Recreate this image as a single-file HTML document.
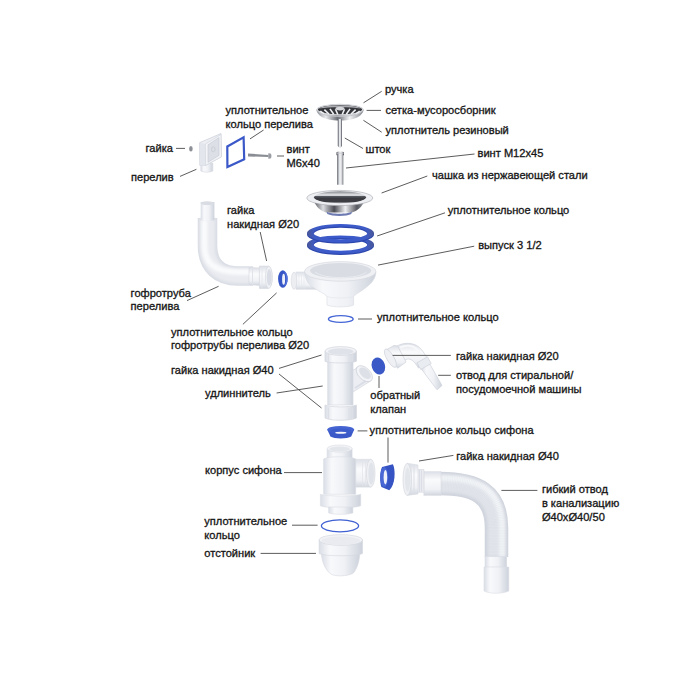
<!DOCTYPE html>
<html><head><meta charset="utf-8">
<style>
html,body{margin:0;padding:0;background:#fff;width:700px;height:700px;overflow:hidden}
svg{display:block}
text{font-family:"Liberation Sans",sans-serif;font-size:11.1px;fill:#161616;stroke:#161616;stroke-width:0.32}
.ln{stroke:#4a4a4a;stroke-width:0.9;fill:none}
</style></head><body>
<svg width="700" height="700" viewBox="0 0 700 700">
<defs>
  <filter id="bl" x="-20%" y="-20%" width="140%" height="140%"><feGaussianBlur stdDeviation="1.6"/></filter>
  <linearGradient id="wh" x1="0" x2="1" y1="0" y2="0">
    <stop offset="0" stop-color="#dadee6"/><stop offset="0.25" stop-color="#f8f9fb"/><stop offset="0.6" stop-color="#eff1f5"/><stop offset="1" stop-color="#cdd2db"/>
  </linearGradient>
  <linearGradient id="whv" x1="0" x2="0" y1="0" y2="1">
    <stop offset="0" stop-color="#dde0e8"/><stop offset="0.35" stop-color="#fafbfc"/><stop offset="0.75" stop-color="#eff1f5"/><stop offset="1" stop-color="#d2d6de"/>
  </linearGradient>
  <linearGradient id="metal" x1="0" x2="1" y1="0" y2="0">
    <stop offset="0" stop-color="#8a8d95"/><stop offset="0.2" stop-color="#e8e9ec"/><stop offset="0.45" stop-color="#6b6e76"/><stop offset="0.7" stop-color="#f2f2f4"/><stop offset="1" stop-color="#80838b"/>
  </linearGradient>
  <linearGradient id="rod" x1="0" x2="1" y1="0" y2="0">
    <stop offset="0" stop-color="#3c3f46"/><stop offset="0.22" stop-color="#a3a6ad"/><stop offset="0.45" stop-color="#f7f8fa"/><stop offset="0.72" stop-color="#cfd1d6"/><stop offset="1" stop-color="#3a3d44"/>
  </linearGradient>
  <linearGradient id="metal2" x1="0" x2="1" y1="0" y2="0">
    <stop offset="0" stop-color="#55585f"/><stop offset="0.18" stop-color="#dcdde1"/><stop offset="0.4" stop-color="#4b4d54"/><stop offset="0.62" stop-color="#eeeff1"/><stop offset="0.85" stop-color="#55575e"/><stop offset="1" stop-color="#9a9ca3"/>
  </linearGradient>
  <linearGradient id="cupin" x1="0" x2="0" y1="0" y2="1">
    <stop offset="0" stop-color="#7f8288"/><stop offset="0.22" stop-color="#c4c6ca"/><stop offset="0.34" stop-color="#eeeff1"/><stop offset="0.44" stop-color="#55585f"/><stop offset="0.6" stop-color="#393b41"/><stop offset="0.86" stop-color="#3c3e44"/><stop offset="1" stop-color="#a9abb0"/>
  </linearGradient>
  <linearGradient id="blue" x1="0" x2="1" y1="0" y2="0">
    <stop offset="0" stop-color="#4a5796"/><stop offset="0.12" stop-color="#3f5cc6"/><stop offset="0.5" stop-color="#3a59cc"/><stop offset="0.88" stop-color="#3f5cc6"/><stop offset="1" stop-color="#4a5796"/>
  </linearGradient>
</defs>


<!-- ===== PARTS ===== -->
<g id="parts">
<!-- strainer -->
<path d="M316.3 109.5 C317 114 321 117.5 327 119 C331 120.3 336 120.6 340 120.6 C344 120.6 349 120.3 353 119 C359 117.5 363 114 363.7 109.5 Z" fill="url(#metal)"/>
<ellipse cx="340" cy="109.6" rx="22.8" ry="5.2" fill="#35373d" stroke="#d4d6da" stroke-width="1.3"/>
<path d="M318.5 108.6 C323 105.8 332 105.4 340 105.4 C348 105.4 357 105.8 361.5 108.6 C355 107.6 348 107.3 340 107.3 C332 107.3 325 107.6 318.5 108.6 Z" fill="#a9abb1"/>
<g stroke="#f0f1f3" stroke-width="1.6" stroke-linecap="butt">
<path d="M320.3 111.2 L324 113.9"/>
<path d="M324.4 109.7 L328.9 114"/>
<path d="M330 108.9 L333.7 114.3"/>
<path d="M335.5 109.3 L337.8 114.5"/>
<path d="M344.5 109.3 L342.2 114.5"/>
<path d="M350 108.9 L346.3 114.3"/>
<path d="M355.6 109.7 L351.1 114"/>
<path d="M359.7 111.2 L356 113.9"/>
</g>
<ellipse cx="340" cy="108.6" rx="4.5" ry="1.8" fill="#d6d8dc"/>
<path d="M317.5 110.5 C320 115 330 116.3 340 116.3 C350 116.3 360 115 362.5 110.5" fill="none" stroke="#c5c7cc" stroke-width="1"/>
<!-- stem -->
<path d="M337.8 119 H342 V146 L340 148.2 L337.8 146 Z" fill="url(#rod)"/>
<!-- bolt -->
<path d="M336.5 152.5 C337 151.2 343.5 151.2 344 152.5 L344 155 L343.3 155.5 V184.8 H337.1 V155.5 L336.5 155 Z" fill="url(#rod)"/>
<path d="M336.8 153.2 H343.7" stroke="#c9cbd0" stroke-width="0.8"/>
<!-- cup -->
<path d="M314 201 C316 207 321 211 326 212.5 L352 212.5 C357 211 362 207 364.5 201 Z" fill="url(#metal2)"/>
<path d="M326.5 211.5 C331 214.5 348 214.5 352 211.5 L351.3 214 C347 216.5 332 216.5 327.3 214 Z" fill="#6e7bb2"/>
<ellipse cx="339.8" cy="198" rx="33" ry="7.6" fill="#eeeff2" stroke="#a3a6ad" stroke-width="0.6"/>
<ellipse cx="340" cy="197.2" rx="26" ry="6" fill="url(#cupin)"/>
<!-- blue seal rings -->
<path d="M306.9 245.79999999999998 A33.6 9.2 0 1 0 374.1 245.79999999999998 A33.6 9.2 0 1 0 306.9 245.79999999999998 Z M313.5 245.49999999999997 A27 6.4 0 1 0 367.5 245.49999999999997 A27 6.4 0 1 0 313.5 245.49999999999997 Z" fill="#2d47ad" fill-rule="evenodd"/><path d="M306.9 244.6 A33.6 9.2 0 1 0 374.1 244.6 A33.6 9.2 0 1 0 306.9 244.6 Z M313.5 244.29999999999998 A27 6.4 0 1 0 367.5 244.29999999999998 A27 6.4 0 1 0 313.5 244.29999999999998 Z" fill="url(#blue)" fill-rule="evenodd"/>
<path d="M306.9 234.39999999999998 A33.6 9.2 0 1 0 374.1 234.39999999999998 A33.6 9.2 0 1 0 306.9 234.39999999999998 Z M313.5 234.09999999999997 A27 6.4 0 1 0 367.5 234.09999999999997 A27 6.4 0 1 0 313.5 234.09999999999997 Z" fill="#2d47ad" fill-rule="evenodd"/><path d="M306.9 233.2 A33.6 9.2 0 1 0 374.1 233.2 A33.6 9.2 0 1 0 306.9 233.2 Z M313.5 232.89999999999998 A27 6.4 0 1 0 367.5 232.89999999999998 A27 6.4 0 1 0 313.5 232.89999999999998 Z" fill="url(#blue)" fill-rule="evenodd"/>
<!-- outlet bowl -->
<path d="M296 272 L316 272 L316 289.3 L296 289.3 Z" fill="url(#whv)" stroke="#dadde4" stroke-width="0.6"/>
<path d="M299 272.3 V289 M301.5 272.3 V289 M304 272.3 V289" stroke="#e2e5eb" stroke-width="0.6"/>
<ellipse cx="294" cy="280.7" rx="2.8" ry="8.6" fill="#eceef2" stroke="#d6d9e0" stroke-width="0.6"/>
<path d="M304.5 272 C305 280 309 285 314 288 C319 291.5 324 293 327 296.4 L327 305 C332 307.5 349 307.5 353.6 305 L353.6 296.4 C357 293 362 291 366 287.5 C371 284 375.5 279 376 272 Z" fill="url(#wh)" stroke="#d9dce3" stroke-width="0.6"/>
<path d="M327 296.4 C332 298.5 349 298.5 353.6 296.4" fill="none" stroke="#e3e6eb" stroke-width="0.7"/>
<ellipse cx="340.2" cy="271.4" rx="35.7" ry="9.8" fill="#eef0f3" stroke="#d6d9e0" stroke-width="0.7"/>
<ellipse cx="340.6" cy="270.6" rx="30.6" ry="7.6" fill="#d9dce3"/>
<path d="M315 272 C320 276 330 277.5 340.6 277.5 C352 277.5 362 276 366.5 272" fill="none" stroke="#e9ebf0" stroke-width="1"/>
<!-- small blue ring -->
<ellipse cx="340.8" cy="319" rx="12.4" ry="3.4" fill="none" stroke="#4566d6" stroke-width="1.3"/>

<!-- overflow nut -->
<ellipse cx="190.9" cy="148.8" rx="1.8" ry="2.8" fill="#8d9097"/>
<!-- overflow box -->
<path d="M200.8 164 L200.8 171 C203 172.6 210.5 172.6 212.8 171 L212.8 163 Z" fill="url(#wh)" stroke="#d6d9e1" stroke-width="0.6"/>
<path d="M199.5 142.7 L221 133.5 L221.4 156.8 L205.6 165.4 L199.8 165.4 Z" fill="#eceef3" stroke="#c9cdd6" stroke-width="0.7"/>
<path d="M199.5 142.7 L205.3 144.1 L205.6 165.4 L199.8 165.4 Z" fill="#e3e6ec"/>
<path d="M205.3 144.1 L221 134.5 L221.4 156.8 L205.6 165.4 Z" fill="#f3f4f7" stroke="#cfd3db" stroke-width="0.6"/>
<path d="M208 144.8 L219 137.6 L219 155.4 L208 162.3 Z" fill="#dcdfe6" stroke="#c6cad3" stroke-width="0.6"/>
<ellipse cx="213.3" cy="149.3" rx="1.8" ry="2.5" fill="none" stroke="#c3c7d0" stroke-width="0.7"/>
<!-- square blue ring -->
<path d="M227.3 146.5 L243.6 137.3 L244.2 159.3 L227.4 167 Z" fill="none" stroke="#3a58c8" stroke-width="2.2" stroke-linejoin="miter"/>
<!-- screw -->
<path d="M248 153.5 L268.5 155 L268.5 157 L248 156.4 Z" fill="#8a8d94"/>
<path d="M268.3 153.2 L270.5 153.4 C271.8 154.5 271.8 157.5 270.5 158.6 L268.3 158.8 Z" fill="#9a9da4"/>

<!-- corrugated overflow pipe -->
<path d="M207.5 218 V246 C207.5 266 220 276 238 276 H253" fill="none" stroke="#d9dce4" stroke-width="19.5"/>
<path d="M207.5 218 V246 C207.5 266 220 276 238 276 H253" fill="none" stroke="#e9ebf0" stroke-width="15" filter="url(#bl)"/>
<path d="M204.5 220 V246 C204.5 264 216 272 238 272 H253" fill="none" stroke="#fafbfc" stroke-width="6" filter="url(#bl)"/>
<rect x="200.7" y="202" width="13.7" height="18.5" fill="url(#wh)"/>
<ellipse cx="207.3" cy="203.2" rx="6.6" ry="1.9" fill="#d9dce3"/>
<!-- overflow nut on pipe -->
<path d="M249 267.6 L259.6 267.9 L259.6 285.4 L249 284.6 Z" fill="url(#whv)" stroke="#d6d9e1" stroke-width="0.6"/>
<path d="M252.5 267.8 V284.9" stroke="#e0e3ea" stroke-width="1"/>
<path d="M259.4 266.1 L268.5 266.1 C271.5 268 272.3 272 272.3 277.3 C272.3 282.5 271.5 286.5 268.5 288.4 L259.4 288.4 Z" fill="url(#whv)" stroke="#d3d6de" stroke-width="0.6"/>
<path d="M262 266.4 V288.1" stroke="#e3e6ec" stroke-width="0.8"/>
<ellipse cx="268.8" cy="277.3" rx="3.4" ry="11.1" fill="#f0f2f5" stroke="#d3d6de" stroke-width="0.6"/>
<ellipse cx="269.2" cy="277.4" rx="2.4" ry="8.1" fill="#dadde5"/>
<!-- blue ring small overflow -->
<ellipse cx="282.8" cy="279" rx="4.7" ry="8.7" fill="#3756c6"/>
<path d="M283.2 270.4 C286.5 272 287.8 275.5 287.8 279 C287.8 282.5 286.5 286 283.2 287.6 C285.5 285 286.2 282 286.2 279 C286.2 276 285.5 273 283.2 270.4 Z" fill="#5472db"/>
<ellipse cx="283.6" cy="279.3" rx="1.5" ry="5.5" fill="#eef1fa"/>

<!-- tee extension -->
<path d="M351 370 C354 370 356 369 357.4 366.8 L371.2 380.6 L353 392 L351 392 Z" fill="#eceef3" stroke="#d3d6de" stroke-width="0.7"/>
<path d="M355 388 L369 379" stroke="#dadde5" stroke-width="2"/>
<ellipse cx="364.3" cy="373.7" rx="9.8" ry="5.9" transform="rotate(44 364.3 373.7)" fill="#f3f4f7" stroke="#d0d4dc" stroke-width="0.8"/>
<ellipse cx="365" cy="373.2" rx="7.2" ry="4.1" transform="rotate(44 365 373.2)" fill="#dde0e7"/>
<rect x="327.8" y="360" width="25.2" height="45" fill="url(#wh)" stroke="#d6d9e1" stroke-width="0.7"/>
<path d="M325 351 L325 361.3 C330 363.5 351 363.5 356.4 361.3 L356.4 351 Z" fill="url(#wh)" stroke="#d3d6de" stroke-width="0.7"/>
<path d="M328.5 353.5 V361.5 M352.5 353.5 V361.5 M349 354.5 V362.3" stroke="#dcdfe6" stroke-width="1.2"/>
<ellipse cx="340.7" cy="351" rx="15.7" ry="4.4" fill="#f2f3f6" stroke="#d3d6de" stroke-width="0.7"/>
<ellipse cx="340.7" cy="351.5" rx="12.7" ry="3.2" fill="#dfe2e8"/>
<path d="M325 405 L325 418 C330 421 351 421 356.4 418 L356.4 405 C351 407.5 330 407.5 325 405 Z" fill="url(#wh)" stroke="#d3d6de" stroke-width="0.7"/>
<path d="M328.5 407.5 V419 M352.5 407.5 V419 M349 408 V420" stroke="#dcdfe6" stroke-width="1.2"/>
<!-- check valve -->
<ellipse cx="378.4" cy="366" rx="6.6" ry="8.7" transform="rotate(-18 378.4 366)" fill="#3a58c6"/>
<!-- elbow -->
<path d="M396 347 C401 342.5 413 341.5 419.5 347.5 C423 351 425.5 355 429 361.5 L418.5 368 C415 362.5 412 359 408.5 359 C406.5 359 405.5 359.5 404 361 Z" fill="url(#whv)" stroke="#cfd3db" stroke-width="0.7"/>
<path d="M400 347.5 C405 345 412 345 416 348.5 C418.5 351 420 353.5 422 357" fill="none" stroke="#f7f8fa" stroke-width="2.2"/>
<path d="M421 368.5 L429.5 363.5 L442 385.5 L437 389.8 Z" fill="url(#wh)" stroke="#cfd3db" stroke-width="0.7"/>
<path d="M417 362.8 L427.5 356.8 L431.2 363.5 L420.7 369.5 Z" fill="#e9ecf0" stroke="#cfd3db" stroke-width="0.7"/>
<path d="M386 350 L394 345.4 L397.6 345.9 L406 362 L397.6 368.2 L386.5 353.8 Z" fill="url(#whv)" stroke="#cfd3db" stroke-width="0.7"/>
<ellipse cx="390.4" cy="358.2" rx="3.6" ry="10.4" transform="rotate(-30 390.4 358.2)" fill="#eef0f4" stroke="#cfd3db" stroke-width="0.7"/>

<!-- siphon seal blue (conical) -->
<path d="M327.3 429.5 L330.4 436.5 C334 439 347.5 439 351.2 436.5 L354.2 429.5 Z" fill="#3a58c8"/>
<ellipse cx="340.7" cy="429.6" rx="13.5" ry="3.7" fill="#4564d2"/>
<ellipse cx="340.7" cy="430.8" rx="10.5" ry="2.3" fill="#3d5ccc"/>
<ellipse cx="340.8" cy="432.7" rx="5.6" ry="1" fill="#f4f6fc"/>

<!-- siphon body -->
<path d="M349 459.3 L371 459.3 L371 487.1 L349 487.1 Z" fill="url(#whv)" stroke="#dadde4" stroke-width="0.6"/>
<path d="M362.5 459.8 V486.6 M365.5 459.8 V486.6" stroke="#e1e4ea" stroke-width="0.7"/>
<ellipse cx="370.7" cy="473.2" rx="4.3" ry="13.9" fill="#eef0f3" stroke="#d6d9e0" stroke-width="0.7"/>
<ellipse cx="371.2" cy="473.4" rx="2.8" ry="11" fill="#e0e3e9"/>
<path d="M327.1 448.6 L327.1 459 L352.1 459 L352.1 448.6 Z" fill="url(#wh)" stroke="#dadde4" stroke-width="0.6"/>
<ellipse cx="339.6" cy="448.6" rx="12.5" ry="3.6" fill="#f3f4f7" stroke="#d9dce3" stroke-width="0.6"/>
<ellipse cx="339.6" cy="449" rx="10.3" ry="2.6" fill="#e3e6eb"/>
<path d="M323.6 459 C327 456 352 456 355.7 459 L355.7 494.3 L323.6 494.3 Z" fill="url(#wh)" stroke="#dadde4" stroke-width="0.6"/>
<path d="M320.4 494.3 C326 496.5 355 496.5 360.7 494.3 L360.7 505.7 C355 508.5 326 508.5 320.4 505.7 Z" fill="url(#wh)" stroke="#d8dbe2" stroke-width="0.6"/>
<path d="M328.6 507 L352.9 507 L352.9 512.9 C348 514.8 333 514.8 328.6 512.9 Z" fill="url(#wh)" stroke="#dadde4" stroke-width="0.6"/>
<!-- side blue ring -->
<path d="M382.1 467.1 L392.9 464.3 C395.8 470 395.3 485 389.3 490.2 L381.4 487.1 C379.6 482 379.6 472 382.1 467.1 Z" fill="#3553c2"/>
<ellipse cx="384.2" cy="477.1" rx="3.9" ry="10.2" fill="#4968d6"/>
<ellipse cx="385.4" cy="477.2" rx="1.8" ry="7.2" fill="#eef1fa"/>

<!-- thin blue ring -->
<ellipse cx="340" cy="525.8" rx="18.6" ry="6" fill="none" stroke="#4061d2" stroke-width="1.3"/>
<!-- sediment cup -->
<path d="M321.3 553 C322 563 326 571 331.4 574.3 C336 576.5 346 576.5 352.9 573.5 C356.5 570 359.5 562 359.8 553 Z" fill="url(#wh)" stroke="#d6d9e1" stroke-width="0.6"/>
<path d="M319.1 540 L319.1 553.5 C325 556.5 356 556.5 362.5 553.5 L362.5 540 Z" fill="url(#wh)" stroke="#d3d6de" stroke-width="0.6"/>
<ellipse cx="340.8" cy="540" rx="21.7" ry="5.4" fill="#f2f3f6" stroke="#d6d9e0" stroke-width="0.7"/>
<ellipse cx="340.8" cy="540.8" rx="19.4" ry="4.2" fill="#e9ebf0"/>

<!-- flexible pipe -->
<path d="M440 483.5 C476 483.5 496.5 494 496.5 528 V557" fill="none" stroke="#cfd3dc" stroke-width="23.5"/>
<path d="M440 483.5 C476 483.5 496.5 494 496.5 528 V557" fill="none" stroke="#e2e5eb" stroke-width="18" filter="url(#bl)"/>
<path d="M440 478 C480 478 502 490 502 528 V557" fill="none" stroke="#f3f5f8" stroke-width="6" filter="url(#bl)"/>
<path d="M440.8 494.3L440.9 472.7M442.3 494.3L442.6 472.7M443.8 494.3L444.3 472.8M445.3 494.4L446.0 472.8M446.8 494.4L447.8 472.9M448.2 494.5L449.4 473.0M449.7 494.6L451.2 473.1M451.2 494.7L453.0 473.2M452.7 494.9L454.8 473.4M454.1 495.0L456.5 473.5M455.5 495.2L458.2 473.7M456.8 495.4L459.9 474.0M458.3 495.6L461.7 474.3M459.7 495.8L463.5 474.6M461.0 496.1L465.3 474.9M462.3 496.4L467.1 475.3M463.6 496.7L468.9 475.7M464.9 497.0L470.7 476.2M466.2 497.4L472.6 476.8M467.4 497.8L474.4 477.3M468.6 498.2L476.2 478.0M469.7 498.6L477.9 478.7M470.8 499.1L479.8 479.5M471.9 499.7L481.6 480.4M473.0 500.2L483.4 481.3M473.9 500.8L485.2 482.3M474.9 501.4L486.9 483.4M475.8 502.0L488.7 484.7M476.7 502.7L490.4 486.0M477.4 503.4L491.9 487.3M478.2 504.1L493.5 488.8M479.0 504.9L495.0 490.4M479.6 505.6L496.3 492.0M480.3 506.5L497.7 493.7M480.9 507.4L498.9 495.5M481.4 508.3L500.0 497.3M482.0 509.2L501.1 499.1M482.5 510.2L502.0 501.0M482.9 511.2L502.8 502.9M483.4 512.3L503.6 504.9M483.7 513.4L504.3 506.7M484.1 514.5L504.9 508.6M484.4 515.7L505.4 510.6M484.7 516.9L505.8 512.4M484.9 518.2L506.2 514.4M485.1 519.5L506.5 516.3M485.3 520.7L506.7 518.1M485.4 522.1L506.9 520.0M485.5 523.4L507.1 521.8M485.6 524.7L507.2 523.7M485.7 526.1L507.3 525.5M485.7 527.6L507.3 527.4M485.7 528.8H507.3M485.7 530.4H507.3M485.7 532.0H507.3M485.7 533.6H507.3M485.7 535.2H507.3M485.7 536.8H507.3M485.7 538.4H507.3M485.7 540.0H507.3M485.7 541.6H507.3M485.7 543.2H507.3M485.7 544.8H507.3M485.7 546.4H507.3M485.7 548.0H507.3M485.7 549.6H507.3M485.7 551.2H507.3M485.7 552.8H507.3M485.7 554.4H507.3M485.7 556.0H507.3" stroke="#cdd2da" stroke-width="0.6" opacity="0.3"/>
<rect x="485" y="556.6" width="21.7" height="10.6" fill="url(#wh)" stroke="#dadde4" stroke-width="0.6"/>
<path d="M484 567 H508.8 V591 C502 594 490 594 484 591 Z" fill="url(#wh)" stroke="#dadde4" stroke-width="0.6"/>
<path d="M423.8 471.6 L441 471.6 L441 495.4 L423.8 495.4 Z" fill="url(#whv)" stroke="#dadde4" stroke-width="0.6"/>
<path d="M417.6 469.5 L424 469.5 L424 492.3 L417.6 492.3 Z" fill="#e9ebf0" stroke="#d6d9e0" stroke-width="0.6"/>
<path d="M407 463.3 L418 465 L418 494 L407 495.4 Z" fill="url(#whv)" stroke="#d9dce3" stroke-width="0.6"/>
<path d="M411 464.5 V494.5 M414 464.8 V494.2" stroke="#dcdfe6" stroke-width="1"/>
<path d="M419.5 470 V492 M421.5 470.3 V491.7" stroke="#d5d9e1" stroke-width="0.7"/>
<ellipse cx="407.2" cy="479.4" rx="4.2" ry="16" fill="#eef0f3" stroke="#d6d9e0" stroke-width="0.7"/>
<ellipse cx="407.6" cy="479.4" rx="2.6" ry="12" fill="#e3e6eb"/>
</g>

<!-- ===== LABELS ===== -->
<text x="385" y="92.9">ручка</text>
<text x="385.5" y="113.6">сетка-мусоросборник</text>
<text x="385.5" y="134.1">уплотнитель резиновый</text>
<text x="225.5" y="113.8">уплотнительное</text>
<text x="225.5" y="128.3">кольцо перелива</text>
<text x="145.5" y="151.9">гайка</text>
<text x="131" y="181.3">перелив</text>
<text x="286.5" y="153.3">винт</text>
<text x="286.5" y="166.8">M6x40</text>
<text x="365.5" y="152.8">шток</text>
<text x="477.5" y="157.3">винт M12x45</text>
<text x="432" y="179.1">чашка из нержавеющей стали</text>
<text x="447.7" y="214.0">уплотнительное кольцо</text>
<text x="478.2" y="248.5">выпуск 3 1/2</text>
<text x="227" y="213.8">гайка</text>
<text x="227" y="227.8">накидная Ø20</text>
<text x="130.6" y="296.5">гофротруба</text>
<text x="130.6" y="309.9">перелива</text>
<text x="171" y="335.9">уплотнительное кольцо</text>
<text x="171" y="349.4">гофротрубы перелива Ø20</text>
<text x="377" y="321.2">уплотнительное кольцо</text>
<text x="171" y="373.6">гайка накидная Ø40</text>
<text x="205" y="397.1">удлиннитель</text>
<text x="456" y="359.7">гайка накидная Ø20</text>
<text x="456" y="379.2">отвод для стиральной/</text>
<text x="456" y="392.9">посудомоечной машины</text>
<text x="370.3" y="399.1">обратный</text>
<text x="370.3" y="412.8">клапан</text>
<text x="369.6" y="434.0">уплотнительное кольцо сифона</text>
<text x="456.2" y="459.7">гайка накидная Ø40</text>
<text x="205" y="474.4">корпус сифона</text>
<text x="541.9" y="493.4">гибкий отвод</text>
<text x="541.9" y="507.1">в канализацию</text>
<text x="541.9" y="520.9">Ø40xØ40/50</text>
<text x="204.3" y="525.4">уплотнительное</text>
<text x="204.3" y="538.6">кольцо</text>
<text x="204.3" y="556.5">отстойник</text>

<!-- ===== LEADER LINES ===== -->
<g class="ln">
<path d="M363.5 102.8 L381.7 91.3"/>
<path d="M366.6 110.4 H381"/>
<path d="M363.4 120.3 L381.7 132.2"/>
<path d="M344.8 138 L363 148.5"/>
<path d="M346 168 L474.5 154"/>
<path d="M381.6 193 L427.3 176"/>
<path d="M377.1 236 L445 212.8"/>
<path d="M378 265.1 L474.2 246.2"/>
<path d="M250 138.9 L263.6 130"/>
<path d="M176 148.4 H185"/>
<path d="M180 176.4 L196.4 169.3"/>
<path d="M277 156 H284"/>
<path d="M260.2 232 L266.6 261"/>
<path d="M187 300.6 L218.6 286.3"/>
<path d="M242.9 324.3 L276.6 292.9"/>
<path d="M358 319 H372"/>
<path d="M279 368.4 L321.5 355"/>
<path d="M279 374 L321.5 408"/>
<path d="M276.6 393 L322.7 386"/>
<path d="M392.6 355.4 H450.8"/>
<path d="M438.2 375.3 H450.8"/>
<path d="M379 376 V388"/>
<path d="M357.6 430.9 H367.4"/>
<path d="M388 437.5 V462.6"/>
<path d="M419 461 L453.4 455.4"/>
<path d="M501.4 490.4 H537.4"/>
<path d="M284 472.6 H322"/>
<path d="M292 525.2 H317.6"/>
<path d="M260.6 553.4 H316"/>
</g>
</svg>
</body></html>
